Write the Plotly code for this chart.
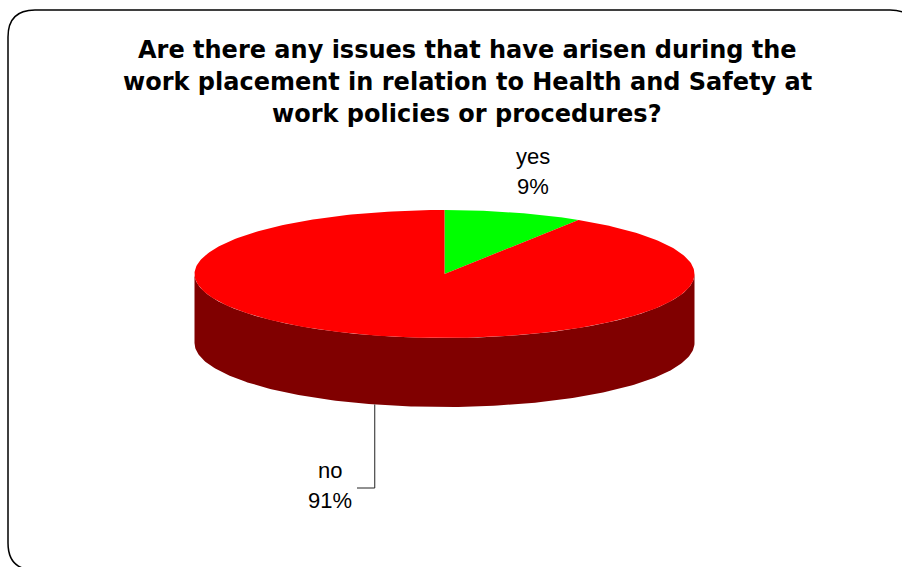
import numpy as np
import plotly.graph_objects as go

# Survey answers
categories = ["yes", "no"]
percent = [9, 91]
top_colors = ["#00FF00", "#FF0000"]
side_colors = ["#008000", "#800000"]

title_lines = [
    "Are there any issues that have arisen during the",
    "work placement in relation to Health and Safety at",
    "work policies or procedures?",
]

W, H = 902, 567
# Tilted pie geometry (canvas units)
CX, CY = 444.5, 274.0
RX, RY = 250.0, 64.0
DEPTH = 69.0


def rim(theta_deg, dy=0.0):
    """Point on the pie rim; angle measured clockwise from 12 o'clock."""
    t = np.radians(theta_deg)
    return CX + RX * np.sin(t), CY - RY * np.cos(t) + dy


fig = go.Figure()

total = float(sum(percent))
angles = []
start = 0.0
for p in percent:
    span = 360.0 * p / total
    angles.append((start, start + span))
    start += span

# Front side walls (only the part facing the viewer, 90..270 degrees)
for (a0, a1), col in zip(angles, side_colors):
    lo, hi = max(a0, 90.0), min(a1, 270.0)
    if hi <= lo:
        continue
    th = np.linspace(lo, hi, 200)
    xt, yt = rim(th)
    xb, yb = rim(th[::-1], DEPTH)
    fig.add_trace(go.Scatter(
        x=np.concatenate([xt, xb]), y=np.concatenate([yt, yb]),
        fill="toself", fillcolor=col, mode="lines", line=dict(width=0),
        hoverinfo="skip", showlegend=False))

# Top faces
for (a0, a1), col, cat, p in zip(angles, top_colors, categories, percent):
    th = np.linspace(a0, a1, 300)
    xa, ya = rim(th)
    fig.add_trace(go.Scatter(
        x=np.concatenate([[CX], xa, [CX]]), y=np.concatenate([[CY], ya, [CY]]),
        fill="toself", fillcolor=col, mode="lines", line=dict(width=0),
        name=cat, hovertemplate=f"{cat}: {p}%<extra></extra>", showlegend=False))

# Leader line for the "no" label, from the middle of its front wall
mid_no = sum(angles[1]) / 2.0
lx, ly = rim(mid_no, DEPTH)
fig.add_trace(go.Scatter(
    x=[lx, lx, 357], y=[ly, 488, 488], mode="lines",
    line=dict(color="#222222", width=1), hoverinfo="skip", showlegend=False))

annotations = []
title_font = dict(family="Verdana, DejaVu Sans, sans-serif", size=24, color="black")
for i, line in enumerate(title_lines):
    annotations.append(dict(x=467, y=50 + 32 * i, text=f"<b>{line}</b>",
                            showarrow=False, xanchor="center", yanchor="middle",
                            font=title_font))

label_font = dict(family="Arial, Liberation Sans, sans-serif", size=22, color="black")
label_pos = {"yes": (533, 156), "no": (330, 470)}
for cat, p in zip(categories, percent):
    x0, y0 = label_pos[cat]
    annotations.append(dict(x=x0, y=y0, text=cat, showarrow=False,
                            xanchor="center", yanchor="middle", font=label_font))
    annotations.append(dict(x=x0, y=y0 + 30, text=f"{p}%", showarrow=False,
                            xanchor="center", yanchor="middle", font=label_font))

# Rounded frame around the chart
L, T, R, B, r = 8, 10, 917, 570, 27
frame = (f"M {L+r},{T} L {R-r},{T} Q {R},{T} {R},{T+r} L {R},{B-r} "
         f"Q {R},{B} {R-r},{B} L {L+r},{B} Q {L},{B} {L},{B-r} "
         f"L {L},{T+r} Q {L},{T} {L+r},{T} Z")

fig.update_layout(
    width=W, height=H, autosize=False,
    margin=dict(l=0, r=0, t=0, b=0),
    paper_bgcolor="white", plot_bgcolor="white",
    xaxis=dict(range=[0, W], visible=False, fixedrange=True),
    yaxis=dict(range=[H, 0], visible=False, fixedrange=True),
    annotations=annotations,
    shapes=[dict(type="path", path=frame, xref="x", yref="y",
                 line=dict(color="black", width=1.5), layer="above")],
    showlegend=False,
)

fig.write_html("out.html")
